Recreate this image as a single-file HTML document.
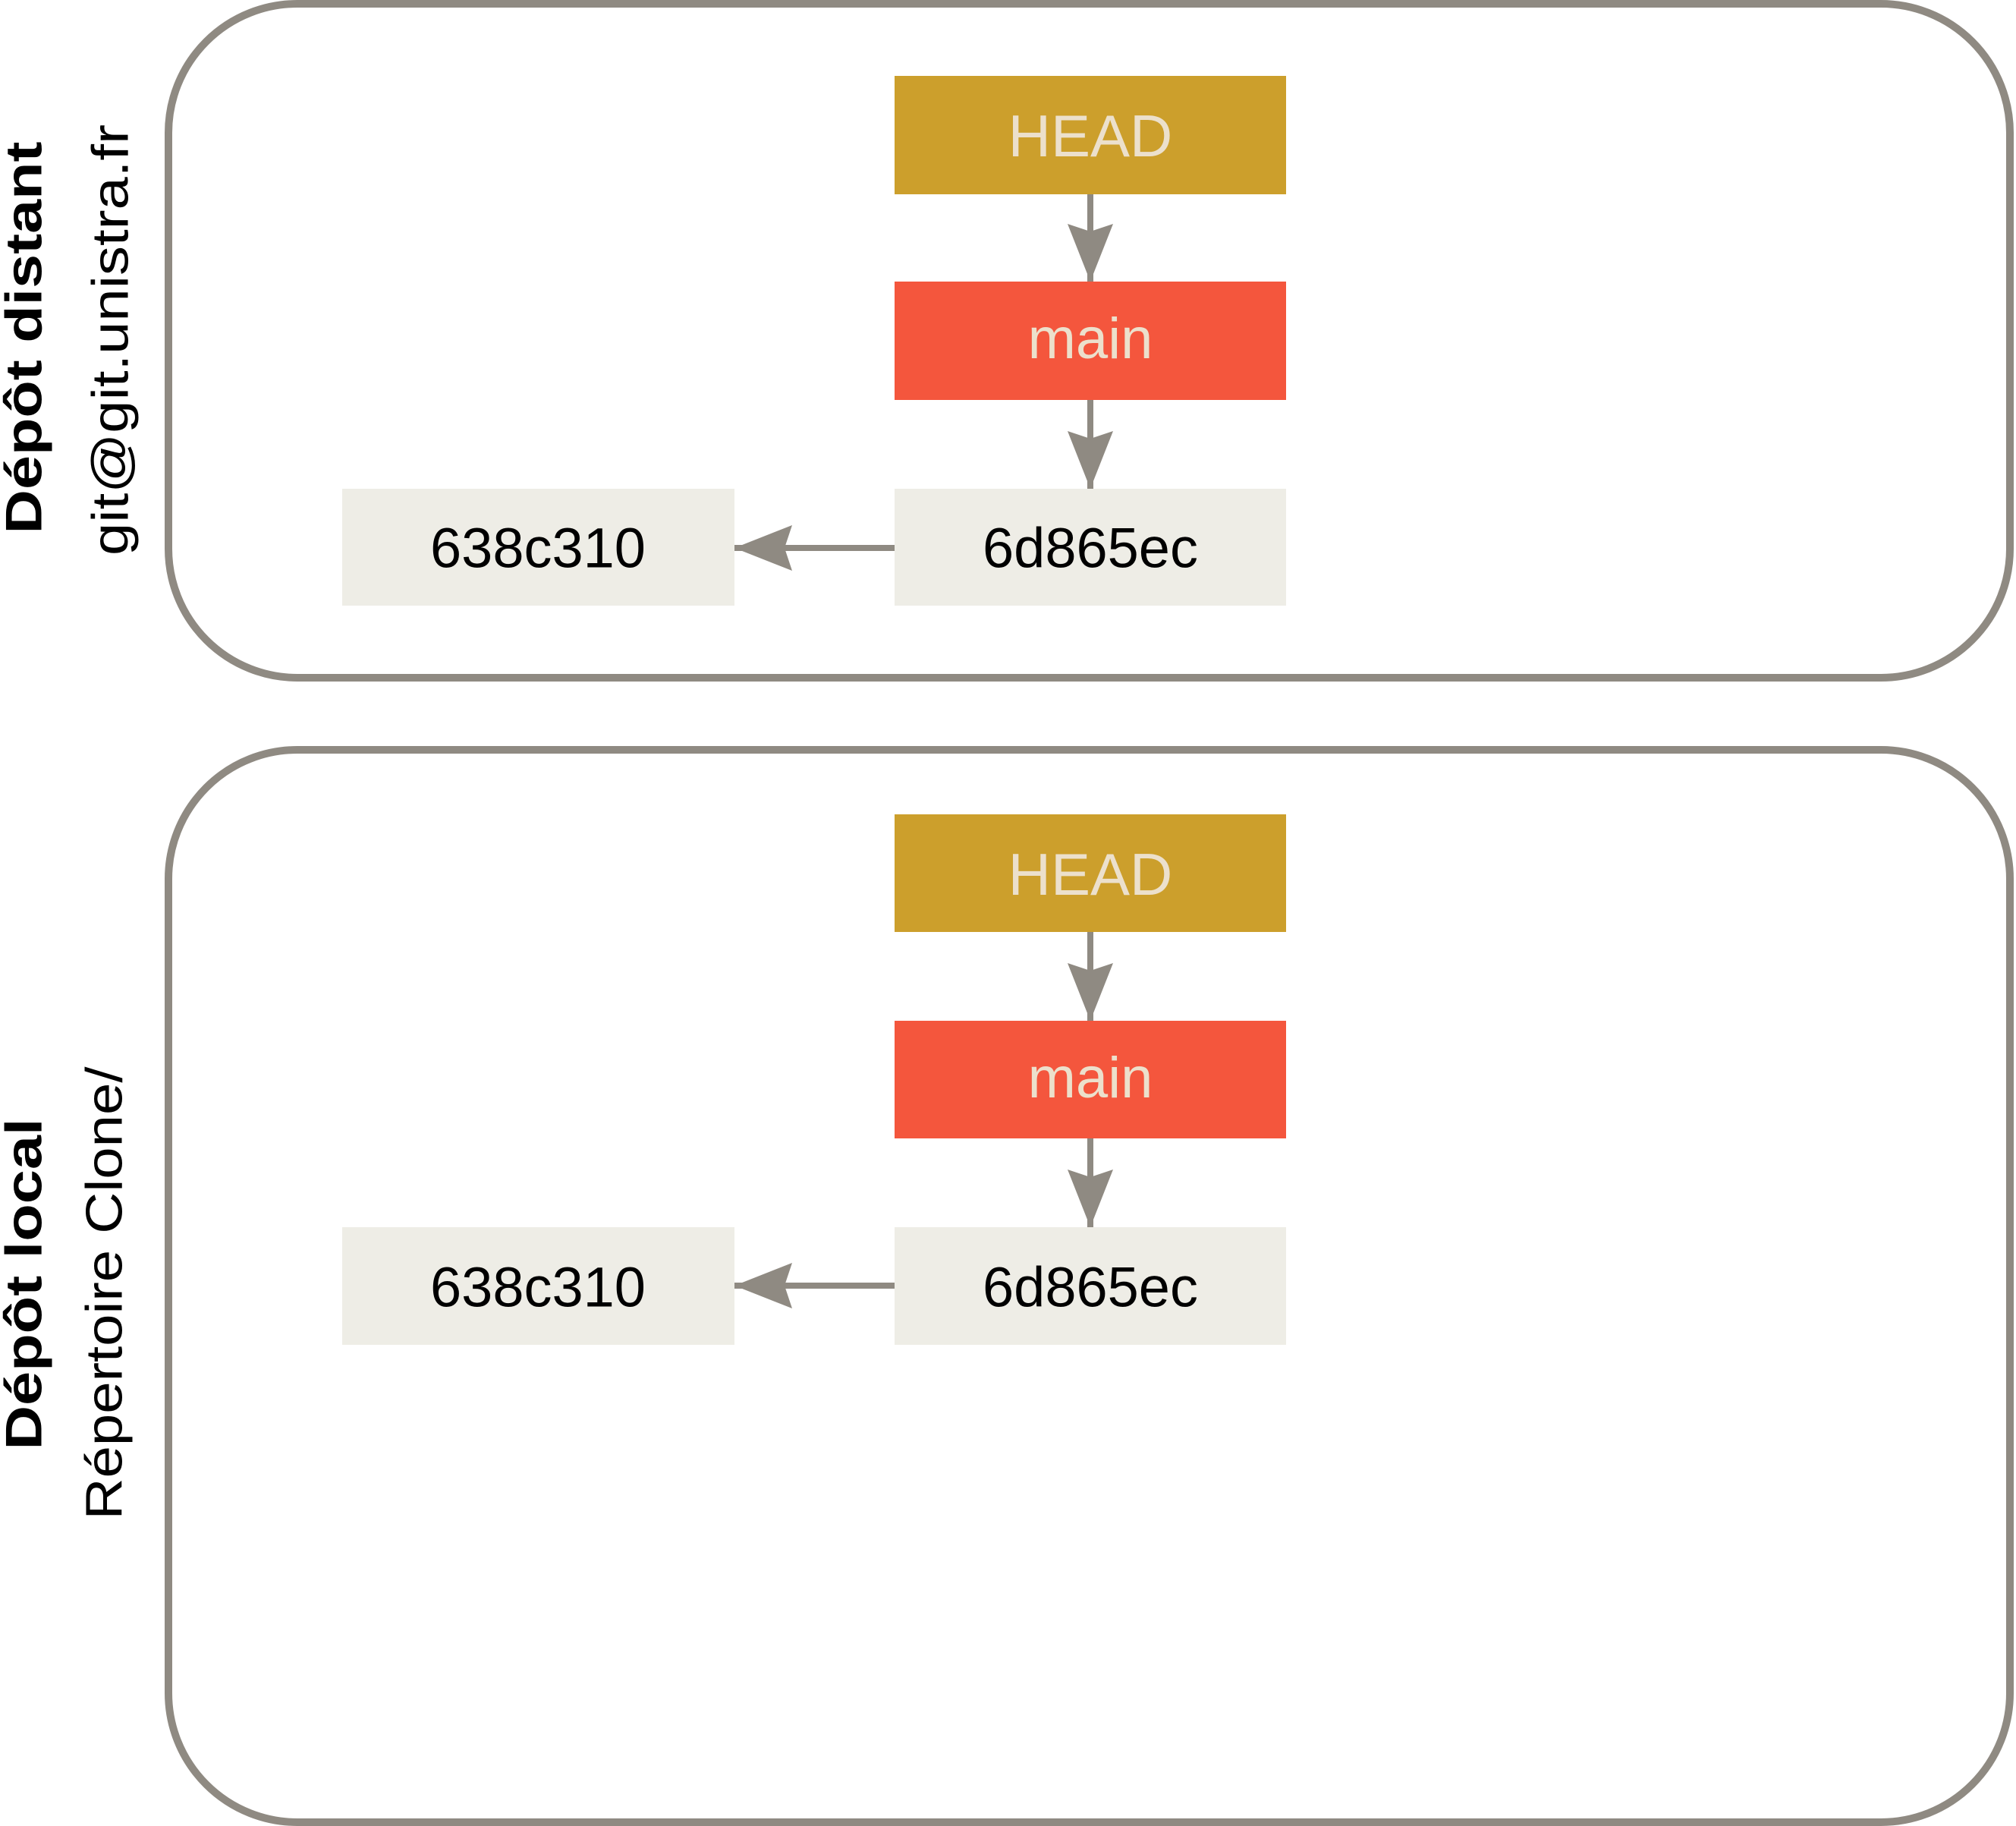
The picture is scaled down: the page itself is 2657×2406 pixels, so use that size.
<!DOCTYPE html>
<html><head><meta charset="utf-8"><style>html,body{margin:0;padding:0;background:#fff}svg{display:block}</style></head>
<body>
<svg width="2657" height="2406" viewBox="0 0 2657 2406" xmlns="http://www.w3.org/2000/svg" font-family="Liberation Sans, sans-serif">
<defs>
<marker id="a" markerUnits="userSpaceOnUse" markerWidth="80" markerHeight="60" refX="76" refY="30" orient="auto">
<path d="M0,0 L76,30 L0,60 L10,30 Z" fill="#8f8a82"/>
</marker>
</defs>
<rect x="222" y="5" width="2427" height="888" rx="170" fill="none" stroke="#8f8a82" stroke-width="10"/>
<rect x="222" y="988" width="2427" height="1413" rx="170" fill="none" stroke="#8f8a82" stroke-width="10"/>

<rect x="1179" y="100" width="516" height="156" fill="#cc9f2c"/>
<rect x="1179" y="371" width="516" height="156" fill="#f4563d"/>
<rect x="1179" y="644" width="516" height="154" fill="#eeede6"/>
<rect x="451" y="644" width="517" height="154" fill="#eeede6"/>
<text x="1437" y="178" dy="0.36em" font-size="78" fill="#ece0cc" text-anchor="middle">HEAD</text>
<text x="1437" y="449" dy="0.3em" font-size="76" fill="#ece0cc" text-anchor="middle">main</text>
<text x="1437" y="721" dy="0.36em" font-size="74" fill="#000" text-anchor="middle">6d865ec</text>
<text x="709" y="721" dy="0.36em" font-size="74" fill="#000" text-anchor="middle">638c310</text>
<line x1="1437" y1="256" x2="1437" y2="371" stroke="#8f8a82" stroke-width="8" marker-end="url(#a)"/>
<line x1="1437" y1="527" x2="1437" y2="644" stroke="#8f8a82" stroke-width="8" marker-end="url(#a)"/>
<line x1="1179" y1="722" x2="968" y2="722" stroke="#8f8a82" stroke-width="8" marker-end="url(#a)"/>

<rect x="1179" y="1073" width="516" height="155" fill="#cc9f2c"/>
<rect x="1179" y="1345" width="516" height="155" fill="#f4563d"/>
<rect x="1179" y="1617" width="516" height="155" fill="#eeede6"/>
<rect x="451" y="1617" width="517" height="155" fill="#eeede6"/>
<text x="1437" y="1151" dy="0.36em" font-size="78" fill="#ece0cc" text-anchor="middle">HEAD</text>
<text x="1437" y="1423" dy="0.3em" font-size="76" fill="#ece0cc" text-anchor="middle">main</text>
<text x="1437" y="1695" dy="0.36em" font-size="74" fill="#000" text-anchor="middle">6d865ec</text>
<text x="709" y="1695" dy="0.36em" font-size="74" fill="#000" text-anchor="middle">638c310</text>
<line x1="1437" y1="1228" x2="1437" y2="1345" stroke="#8f8a82" stroke-width="8" marker-end="url(#a)"/>
<line x1="1437" y1="1500" x2="1437" y2="1617" stroke="#8f8a82" stroke-width="8" marker-end="url(#a)"/>
<line x1="1179" y1="1694" x2="968" y2="1694" stroke="#8f8a82" stroke-width="8" marker-end="url(#a)"/>

<text transform="translate(30,445) rotate(-90)" dy="0.36em" font-size="68" font-weight="bold" text-anchor="middle" textLength="517" lengthAdjust="spacingAndGlyphs">Dépôt distant</text>
<text transform="translate(144,448) rotate(-90)" dy="0.36em" font-size="68" text-anchor="middle" textLength="568" lengthAdjust="spacingAndGlyphs">git@git.unistra.fr</text>
<text transform="translate(30,1692) rotate(-90)" dy="0.36em" font-size="68" font-weight="bold" text-anchor="middle" textLength="437" lengthAdjust="spacingAndGlyphs">Dépôt local</text>
<text transform="translate(136,1704) rotate(-90)" dy="0.36em" font-size="68" text-anchor="middle" textLength="597" lengthAdjust="spacingAndGlyphs">Répertoire Clone/</text>
</svg>
</body></html>
